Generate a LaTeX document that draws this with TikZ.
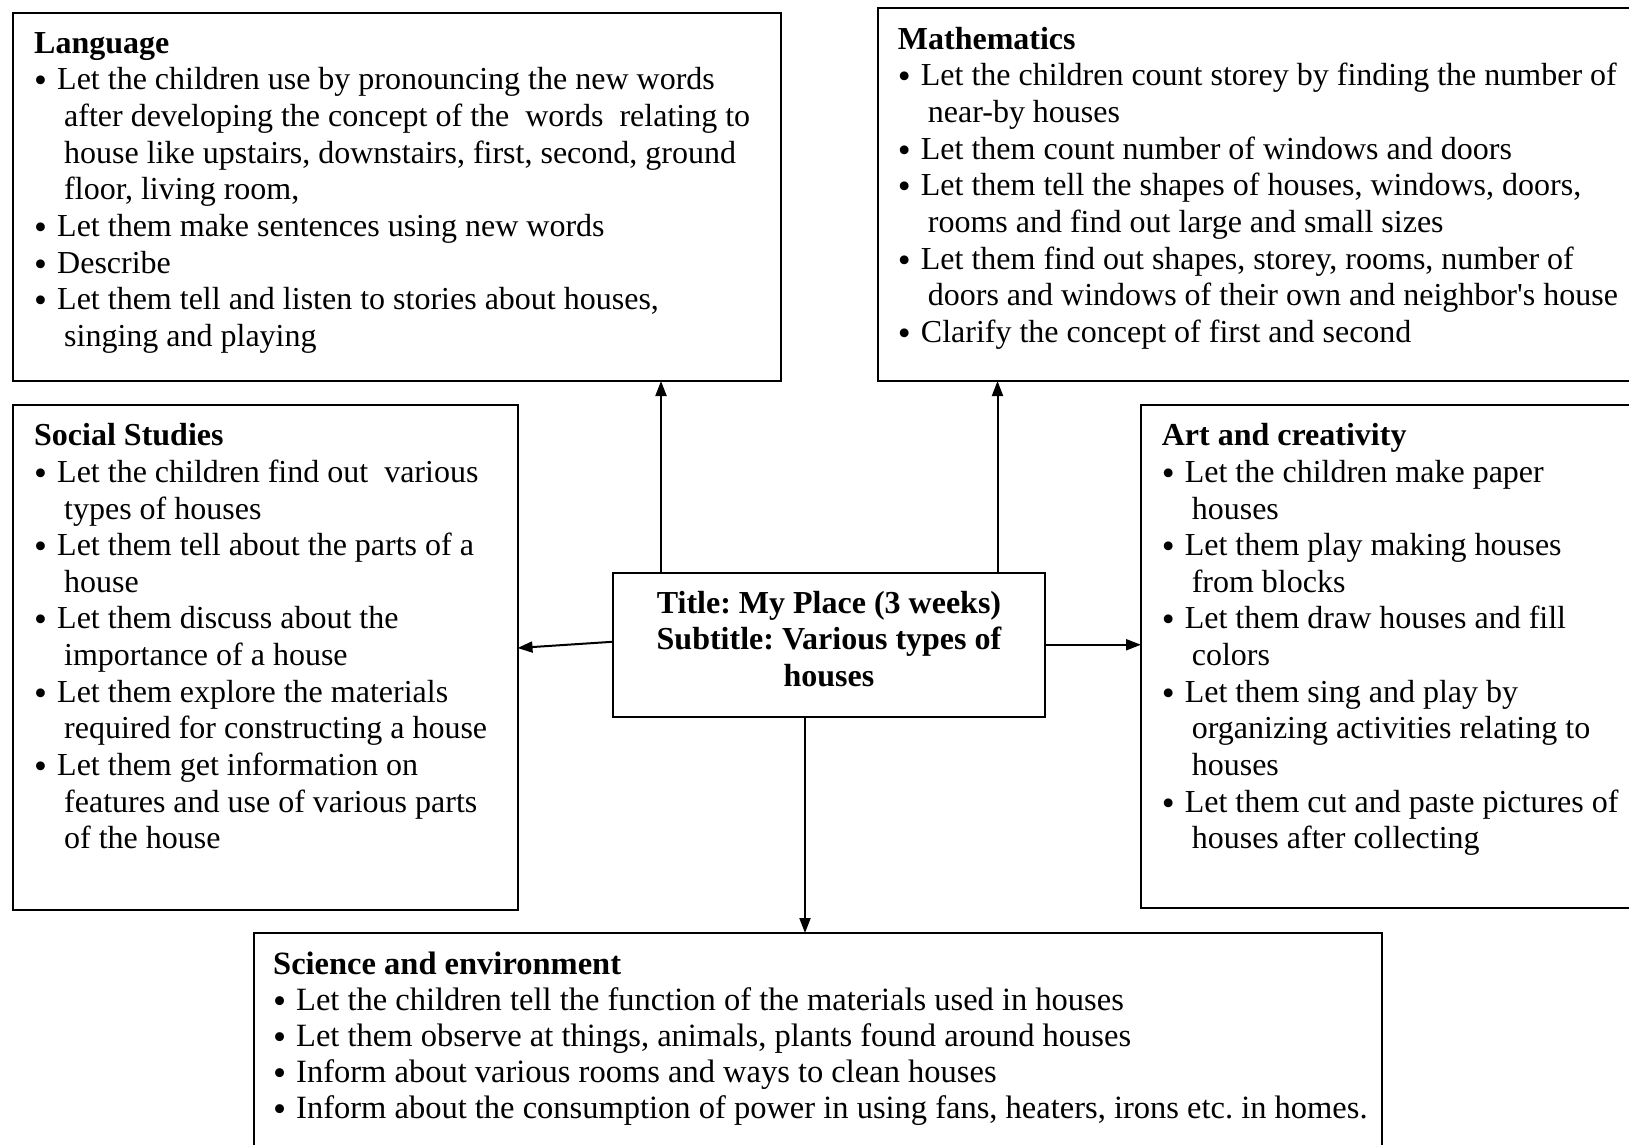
\documentclass[tikz,border=0pt]{standalone}
\usepackage{fontspec}
\setmainfont{Liberation Serif}[Ligatures=TeXOff]
\usetikzlibrary{arrows.meta}
\newcommand{\bi}{\hspace*{0pt}\makebox[23pt][l]{\raisebox{-3pt}{\scalebox{1.15}{•}}}}
\newcommand{\ci}{\hspace*{30pt}}
\newcommand{\fs}{\rule{0pt}{26pt}}
\tikzset{
  box/.style={draw, line width=2pt, rectangle, inner sep=0pt, outer sep=0pt, anchor=north west},
  txt/.style={anchor=north west, inner sep=0pt, align=left, font=\fontsize{32}{36.65}\selectfont\frenchspacing},
  stxt/.style={anchor=north west, inner sep=0pt, align=left, font=\fontsize{32.5}{36.1}\selectfont\frenchspacing},
  ctxt/.style={anchor=north, inner sep=0pt, align=center, font=\fontsize{32}{36.4}\selectfont\bfseries\frenchspacing},
  arr/.style={line width=2pt, -{Triangle[length=15pt,width=11pt]}}
}
\begin{document}
\begin{tikzpicture}[x=1pt,y=-1pt]
\clip (0,0) rectangle (1629,1144);
\fill[white] (0,0) rectangle (1629,1144);
% boxes
\node[box, minimum width=768.5pt, minimum height=368.5pt] (lang) at (12.5,12.5) {};
\node[box, minimum width=800pt, minimum height=372.7pt] (math) at (878,8.3) {};
\node[box, minimum width=505pt, minimum height=505pt] (soc) at (12.5,405) {};
\node[box, minimum width=600pt, minimum height=503pt] (art) at (1141,405) {};
\node[box, minimum width=1128.5pt, minimum height=260pt] (sci) at (253.5,933) {};
\node[box, minimum width=432pt, minimum height=144.5pt] (ctr) at (613,572.5) {};
% texts
\node[txt] (langt) at (34,27) {\fs\textbf{Language}\\
\bi Let the children use by pronouncing the new words\\
\ci after developing the concept of the\ \ words\ \ relating to\\
\ci house like upstairs, downstairs, first, second, ground\\
\ci floor, living room,\\
\bi Let them make sentences using new words\\
\bi Describe\\
\bi Let them tell and listen to stories about houses,\\
\ci singing and playing};
\node[txt] (matht) at (897.7,23) {\fs\textbf{Mathematics}\\
\bi Let the children count storey by finding the number of\\
\ci near-by houses\\
\bi Let them count number of windows and doors\\
\bi Let them tell the shapes of houses, windows, doors,\\
\ci rooms and find out large and small sizes\\
\bi Let them find out shapes, storey, rooms, number of\\
\ci doors and windows of their own and neighbor's house\\
\bi Clarify the concept of first and second};
\node[txt] (soct) at (34,419.5) {\fs\textbf{Social Studies}\\
\bi Let the children find out\ \ various\\
\ci types of houses\\
\bi Let them tell about the parts of a\\
\ci house\\
\bi Let them discuss about the\\
\ci importance of a house\\
\bi Let them explore the materials\\
\ci required for constructing a house\\
\bi Let them get information on\\
\ci features and use of various parts\\
\ci of the house};
\node[txt] (artt) at (1161.6,419.5) {\fs\textbf{Art and creativity}\\
\bi Let the children make paper\\
\ci houses\\
\bi Let them play making houses\\
\ci from blocks\\
\bi Let them draw houses and fill\\
\ci colors\\
\bi Let them sing and play by\\
\ci organizing activities relating to\\
\ci houses\\
\bi Let them cut and paste pictures of\\
\ci houses after collecting};
\node[stxt] (scit) at (273,948) {\fs\textbf{Science and environment}\\
\bi Let the children tell the function of the materials used in houses\\
\bi Let them observe at things, animals, plants found around houses\\
\bi Inform about various rooms and ways to clean houses\\
\bi Inform about the consumption of power in using fans, heaters, irons etc. in homes.};
\node[ctxt] (ctrt) at (829,587) {\fs Title: My Place (3 weeks)\\ Subtitle: Various types of\\ houses};
% connectors
\draw[arr] ([xshift=48pt]ctr.north west) coordinate (p1) -- (p1 |- lang.south);
\draw[arr] ([xshift=-47.5pt]ctr.north east) coordinate (p2) -- (p2 |- math.south);
\draw[arr] ([yshift=3pt]ctr.west) -- ([yshift=9.5pt]soc.east);
\draw[arr] (ctr.east) -- (ctr.east -| art.west);
\draw[arr] ([xshift=-24pt]ctr.south) coordinate (p3) -- (p3 |- sci.north);
\end{tikzpicture}
\end{document}
